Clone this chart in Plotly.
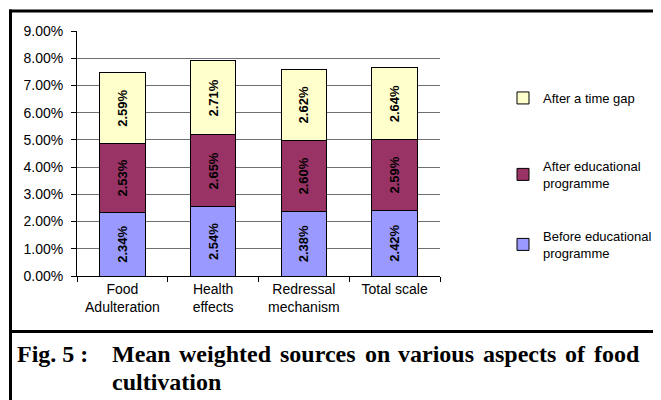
import plotly.graph_objects as go

categories = ["Food<br>Adulteration", "Health<br>effects", "Redressal<br>mechanism", "Total scale"]
before_edu = [2.34, 2.54, 2.38, 2.42]
after_edu = [2.53, 2.65, 2.60, 2.59]
after_gap = [2.59, 2.71, 2.62, 2.64]
series_names = ["Before educational<br>programme", "After educational<br>programme", "After a time gap"]
series_values = [before_edu, after_edu, after_gap]
colors = ["#9999FF", "#993366", "#FFFFCC"]
y_ticks = [0, 1, 2, 3, 4, 5, 6, 7, 8, 9]
caption_label = "Fig. 5 :"
caption_line1 = ["Mean", "weighted", "sources", "on", "various", "aspects", "of", "food"]
caption_line2 = "cultivation"

OFF = 8  # page body margin
W, H = 661 - OFF, 400 - OFF
L, R, T, B = 77 - OFF, 440 - OFF, 31 - OFF, 276 - OFF

def px_x(p):
    return (p - OFF - L) / (R - L)

def px_y(p):
    return (B - (p - OFF)) / (B - T)

legend_keys = ["legend3", "legend2", "legend"]
legend_tops = [221, 151, 83]

fig = go.Figure()
for i, (name, vals, col) in enumerate(zip(series_names, series_values, colors)):
    fig.add_trace(go.Bar(
        x=categories, y=vals, name=name,
        marker=dict(color=col, line=dict(color="black", width=1)),
        texttemplate="%{y:.2f}%", textposition="inside", insidetextanchor="middle",
        textangle=-90, textfont=dict(family="Liberation Sans, Arial", size=13, color="black", weight="bold"),
        legend=legend_keys[i], hoverinfo="skip",
    ))

legend_style = dict(xanchor="left", yanchor="top", font=dict(size=13), itemwidth=30,
                    bgcolor="rgba(0,0,0,0)")
layout_legends = {}
for key, top in zip(legend_keys, legend_tops):
    layout_legends[key] = dict(x=px_x(503), y=px_y(top), **legend_style)

fig.update_layout(
    width=W, height=H, barmode="stack", bargap=0.5,
    paper_bgcolor="white", plot_bgcolor="white",
    margin=dict(l=L, r=W - R, t=T, b=H - B, autoexpand=False),
    font=dict(family="Liberation Sans, Arial", size=13, color="black"),
    showlegend=True,
    xaxis=dict(showline=True, linecolor="black", linewidth=1, ticks="outside", tickson="boundaries",
               ticklen=5, tickcolor="black", tickfont=dict(size=14), showgrid=False),
    yaxis=dict(range=[0, 9], tickvals=y_ticks, ticktext=["%.2f%%" % v for v in y_ticks],
               showline=True, linecolor="black", linewidth=1, ticks="outside", ticklen=5,
               tickcolor="black", showgrid=True, gridcolor="#707070", gridwidth=1,
               zeroline=False, tickfont=dict(size=14), ticklabelstandoff=5),
    **layout_legends,
)

shapes = [
    dict(type="line", xref="paper", yref="paper", x0=px_x(10.5), x1=px_x(10.5), y0=px_y(9.5), y1=px_y(402), line=dict(color="black", width=3)),
    dict(type="line", xref="paper", yref="paper", x0=px_x(9), x1=px_x(665), y0=px_y(11), y1=px_y(11), line=dict(color="black", width=3)),
    dict(type="line", xref="paper", yref="paper", x0=px_x(9), x1=px_x(665), y0=px_y(331.5), y1=px_y(331.5), line=dict(color="black", width=3)),
]
fig.update_layout(shapes=shapes)

cap_size = 24
cap_font = dict(family="Liberation Serif, Times New Roman", size=cap_size, color="black", weight="bold")
fig.add_annotation(text=caption_label, x=px_x(15), y=px_y(354), xref="paper", yref="paper",
                   xanchor="left", yanchor="middle", showarrow=False, font=cap_font)

# justified first caption line: word widths from Times-Bold metrics (1/1000 em)
glyph_w = dict(M=944, e=444, a=500, n=556, w=722, i=278, g=500, h=556, t=333, d=556,
               s=389, o=500, u=556, r=444, c=444, v=500, p=556, f=333)
word_w = [sum(glyph_w[ch] for ch in wd) * cap_size / 1000 for wd in caption_line1]
x_start, x_end = 113, 640
gap = (x_end - x_start - sum(word_w)) / (len(caption_line1) - 1)
cx = x_start
for word, ww in zip(caption_line1, word_w):
    fig.add_annotation(text=word, x=px_x(cx - 3), y=px_y(354), xref="paper", yref="paper",
                       xanchor="left", yanchor="middle", showarrow=False, font=cap_font)
    cx += ww + gap
fig.add_annotation(text=caption_line2,
                   x=px_x(110), y=px_y(382), xref="paper", yref="paper", align="left",
                   xanchor="left", yanchor="middle", showarrow=False, font=cap_font)

fig.write_html("out.html")
